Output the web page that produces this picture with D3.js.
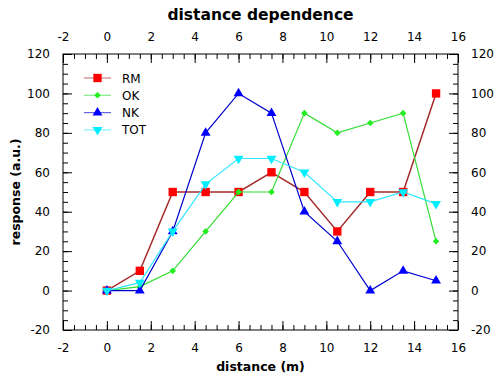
<!DOCTYPE html>
<html>
<head>
<meta charset="utf-8">
<script src="https://cdn.jsdelivr.net/npm/d3@7"></script>
<style>
  body { margin: 0; background: #fff; }
  text { font-family: "DejaVu Sans", sans-serif; }
</style>
</head>
<body>
<div id="chart"></div>
<script>
// data
var distance = [0, 1.5, 3, 4.5, 6, 7.5, 9, 10.5, 12, 13.5, 15]
var rm  = [0, 10, 50, 50, 50, 60, 50, 30, 50, 50, 100]
var ok  = [0, 2, 10, 30, 50, 50, 90, 80, 85, 90, 25]
var nk  = [0, 0, 30, 80, 100, 90, 40, 25, 0, 10, 5]
var tot = [0, 4, 30, 54, 67, 67, 60, 45, 45, 50, 44]
var xTicks = [-2, 0, 2, 4, 6, 8, 10, 12, 14, 16]
var yTicks = [-20, 0, 20, 40, 60, 80, 100, 120]

var series = [
  {name: 'RM',  vals: rm,  line: '#a52a2a', fill: '#ff0000', sym: 'square'},
  {name: 'OK',  vals: ok,  line: '#33dd33', fill: '#22ee22', sym: 'diamond'},
  {name: 'NK',  vals: nk,  line: '#0000cc', fill: '#0000ff', sym: 'up'},
  {name: 'TOT', vals: tot, line: '#33e6ff', fill: '#00eeff', sym: 'down'}
]

var W = 502, H = 382
var m = {left: 63, right: 44, top: 54, bottom: 52}

var svg = d3.select('#chart').append('svg')
    .attr('width', W)
    .attr('height', H)

var x = d3.scaleLinear().domain([-2, 16]).range([m.left, W - m.right])
var y = d3.scaleLinear().domain([-20, 120]).range([H - m.bottom, m.top])

// minor ticks every 0.5 / 5
var xMinor = d3.range(-2, 16.01, 0.5)
var yMinor = d3.range(-20, 120.01, 5)

var fmt = function(d) { return String(d) } // plain hyphen minus like the original

// axes with inward ticks
function addAxis(axis, tr) {
  var g = svg.append('g').attr('transform', tr).call(axis)
  g.select('.domain').remove()
  g.selectAll('text').attr('font-size', 12).attr('fill', '#000')
  g.selectAll('line').attr('stroke', '#000')
  return g
}
addAxis(d3.axisBottom(x).tickValues(xTicks).tickSize(-9).tickPadding(13).tickFormat(fmt),
  'translate(0,' + y(-20) + ')')
addAxis(d3.axisTop(x).tickValues(xTicks).tickSize(-9).tickPadding(13).tickFormat(fmt),
  'translate(0,' + y(120) + ')')
addAxis(d3.axisLeft(y).tickValues(yTicks).tickSize(-9).tickPadding(13).tickFormat(fmt),
  'translate(' + x(-2) + ',0)')
addAxis(d3.axisRight(y).tickValues(yTicks).tickSize(-9).tickPadding(13).tickFormat(fmt),
  'translate(' + x(16) + ',0)')

// minor ticks
function minor(axis, tr) {
  var g = svg.append('g').attr('transform', tr).call(axis)
  g.select('.domain').remove()
  g.selectAll('text').remove()
  g.selectAll('line').attr('stroke', '#000')
}
minor(d3.axisBottom(x).tickValues(xMinor).tickSize(-5), 'translate(0,' + y(-20) + ')')
minor(d3.axisTop(x).tickValues(xMinor).tickSize(-5), 'translate(0,' + y(120) + ')')
minor(d3.axisLeft(y).tickValues(yMinor).tickSize(-5), 'translate(' + x(-2) + ',0)')
minor(d3.axisRight(y).tickValues(yMinor).tickSize(-5), 'translate(' + x(16) + ',0)')

// frame
svg.append('rect')
  .attr('x', x(-2)).attr('y', y(120))
  .attr('width', x(16) - x(-2)).attr('height', y(-20) - y(120))
  .attr('fill', 'none').attr('stroke', '#000').attr('stroke-width', 1)

// markers
var symbols = {
  square: d3.symbol().type(d3.symbolSquare).size(70),
  diamond: d3.symbol().type(d3.symbolSquare).size(22),
  up: d3.symbol().type(d3.symbolTriangle).size(42),
  down: d3.symbol().type(d3.symbolTriangle).size(42)
}
function marker(g, s, px, py) {
  var rot = s.sym == 'down' ? ' rotate(180)' : (s.sym == 'diamond' ? ' rotate(45)' : '')
  g.append('path')
    .attr('d', symbols[s.sym]())
    .attr('transform', 'translate(' + px + ',' + py + ')' + rot)
    .attr('fill', s.fill)
}

var line = d3.line()

series.forEach(function(s) {
  var pts = distance.map(function(d, i) { return [x(d), y(s.vals[i])] })
  svg.append('path')
    .attr('d', line(pts))
    .attr('fill', 'none')
    .attr('stroke', s.line)
    .attr('stroke-width', s.sym == 'square' ? 1.5 : 1.2)
  var g = svg.append('g')
  pts.forEach(function(p) { marker(g, s, p[0], p[1]) })
})

// legend
var lg = svg.append('g')
series.forEach(function(s, i) {
  var ly = 78 + i * 17.3
  lg.append('line')
    .attr('x1', 84).attr('x2', 111).attr('y1', ly).attr('y2', ly)
    .attr('stroke', s.line).attr('stroke-width', 1.2).attr('opacity', 0.6)
  marker(lg, s, 97.5, ly)
  lg.append('text')
    .attr('x', 122).attr('y', ly + 4.5)
    .attr('font-size', 12)
    .text(s.name)
})

// titles
svg.append('text')
  .attr('x', (x(-2) + x(16)) / 2).attr('y', 20)
  .attr('text-anchor', 'middle')
  .attr('font-size', 15.5).attr('font-weight', 'bold')
  .text('distance dependence')

svg.append('text')
  .attr('x', (x(-2) + x(16)) / 2).attr('y', 371)
  .attr('text-anchor', 'middle')
  .attr('font-size', 12.5).attr('font-weight', 'bold')
  .text('distance (m)')

svg.append('text')
  .attr('transform', 'translate(20,' + ((y(-20) + y(120)) / 2) + ') rotate(-90)')
  .attr('text-anchor', 'middle')
  .attr('font-size', 12.5).attr('font-weight', 'bold')
  .text('response (a.u.)')
</script>
</body>
</html>
